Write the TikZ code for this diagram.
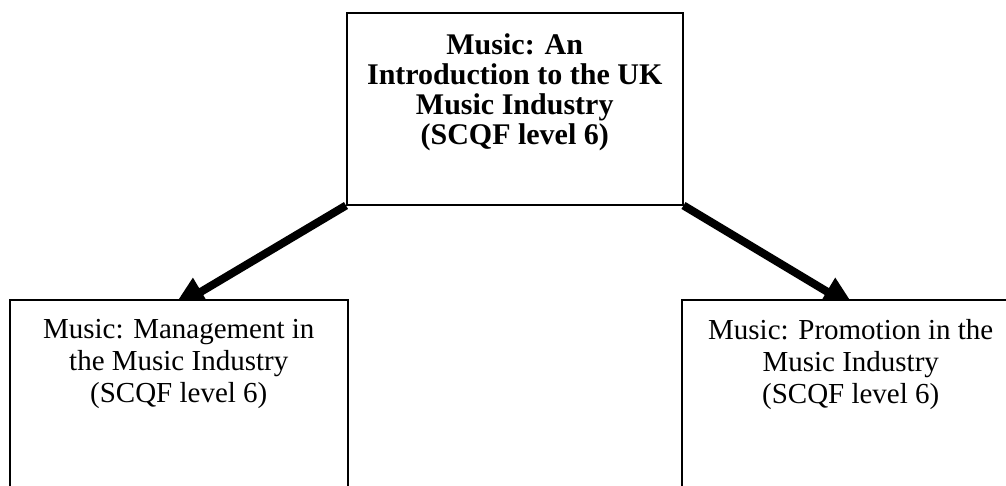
\documentclass[tikz,border=0pt]{standalone}
\usepackage{fontspec}
\setmainfont{Liberation Serif}
\usetikzlibrary{arrows.meta,backgrounds}
\begin{document}
\begin{tikzpicture}[x=1pt,y=1pt,
  box/.style={draw, line width=1.5pt, fill=white, anchor=north west, inner sep=0pt},
  boldtext/.style={anchor=north, align=center, inner sep=0pt, font=\fontsize{30}{30}\selectfont\bfseries},
  plaintext/.style={anchor=north, align=center, inner sep=0pt, font=\fontsize{29}{32}\selectfont},
  conn/.style={line width=8pt, -{Triangle[length=34pt,width=30pt]}}]
\useasboundingbox (0,0) rectangle (1006,-485);
\clip (0,0) rectangle (1006,-485);
\node[box, minimum width=336pt, minimum height=192pt] (top) at (346,-12) {};
\node[box, minimum width=338pt, minimum height=230pt] (left) at (9,-299) {};
\node[box, minimum width=338pt, minimum height=230pt] (right) at (681,-299) {};
\node[boldtext] (toptext) at ([yshift=-21pt]top.north) {Music: An\\Introduction to the UK\\Music Industry\\(SCQF level 6)};
\node[plaintext] (lefttext) at ([yshift=-20pt]left.north) {Music: Management in\\the Music Industry\\(SCQF level 6)};
\node[plaintext] (righttext) at ([yshift=-20pt]right.north) {Music: Promotion in the\\Music Industry\\(SCQF level 6)};
\coordinate (tipL) at (172,-309);
\coordinate (tipR) at (856,-309);
\begin{pgfonlayer}{background}
\draw[conn] (top.south west) -- (tipL);
\draw[conn] (top.south east) -- (tipR);
\end{pgfonlayer}
\end{tikzpicture}
\end{document}
